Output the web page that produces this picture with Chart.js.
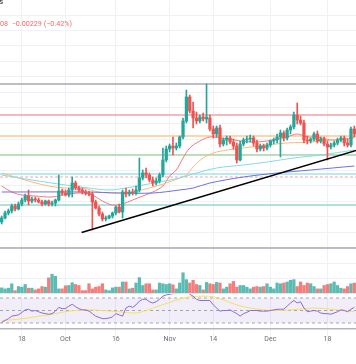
<!DOCTYPE html>
<html>
<head>
<meta charset="utf-8">
<script src="https://cdn.jsdelivr.net/npm/chart.js@4.4.0/dist/chart.umd.min.js"></script>
<style>
  body { margin: 0; width: 356px; height: 364px; overflow: hidden; background: #fff; font-family: Roboto, sans-serif; }
  .pane { position: absolute; left: 0; width: 356px; }
  #title { position: absolute; left: -1px; top: -3px; font-size: 8px; color: #131722; }
  #change { position: absolute; left: 0; top: 19px; font-size: 7.2px; color: #f06b6b; white-space: pre; }
  #sep { position: absolute; left: 0; top: 293px; width: 356px; height: 1px; background: #e4e6ec; }
</style>
</head>
<body>
<div class="pane" style="top:0;height:293px"><canvas id="main" width="356" height="293"></canvas></div>
<div class="pane" style="top:293px;height:56px"><canvas id="rsi" width="356" height="56"></canvas></div>
<div id="sep"></div>
<div id="title">s</div>
<div id="change">08  −0.00229 (−0.42%)</div>
<script>
// day 0 = Sep 12, one candle per day
const tickDays = [6, 19, 34, 50, 63, 80, 97];
const tickLabels = ['18', 'Oct', '16', 'Nov', '14', 'Dec', '18'];

const opens = [0.5356,0.5364,0.5374,0.5378,0.5388,0.5382,0.5392,0.5400,0.5408,0.5398,
  0.5402,0.5400,0.5396,0.5392,0.5398,0.5392,0.5394,0.5400,0.5418,0.5414,
  0.5410,0.5420,0.5434,0.5424,0.5420,0.5416,0.5414,0.5412,0.5396,0.5384,
  0.5372,0.5362,0.5364,0.5368,0.5374,0.5386,0.5376,0.5416,0.5412,0.5416,
  0.5414,0.5420,0.5444,0.5454,0.5450,0.5440,0.5434,0.5438,0.5450,0.5480,
  0.5502,0.5508,0.5504,0.5508,0.5526,0.5558,0.5606,0.5578,0.5564,0.5558,
  0.5566,0.5562,0.5564,0.5542,0.5532,0.5544,0.5512,0.5520,0.5524,0.5516,
  0.5508,0.5480,0.5512,0.5520,0.5522,0.5524,0.5514,0.5502,0.5508,0.5504,
  0.5510,0.5518,0.5520,0.5526,0.5534,0.5524,0.5540,0.5546,0.5570,0.5560,
  0.5554,0.5520,0.5518,0.5522,0.5532,0.5518,0.5522,0.5512,0.5506,0.5510,
  0.5514,0.5520,0.5524,0.5514,0.5510,0.5542];
const highs = [0.5368,0.5378,0.5382,0.5392,0.5392,0.5396,0.5404,0.5412,0.5420,0.5406,
  0.5406,0.5404,0.5400,0.5400,0.5400,0.5398,0.5402,0.5450,0.5422,0.5420,
  0.5424,0.5446,0.5438,0.5428,0.5424,0.5420,0.5418,0.5416,0.5400,0.5388,
  0.5376,0.5368,0.5370,0.5376,0.5388,0.5392,0.5420,0.5424,0.5420,0.5422,
  0.5428,0.5484,0.5460,0.5464,0.5454,0.5446,0.5444,0.5454,0.5504,0.5508,
  0.5512,0.5526,0.5514,0.5528,0.5564,0.5620,0.5610,0.5596,0.5576,0.5570,
  0.5574,0.5632,0.5570,0.5548,0.5548,0.5550,0.5524,0.5528,0.5528,0.5522,
  0.5514,0.5518,0.5524,0.5528,0.5530,0.5528,0.5520,0.5512,0.5512,0.5514,
  0.5520,0.5524,0.5532,0.5540,0.5538,0.5544,0.5550,0.5576,0.5594,0.5568,
  0.5560,0.5528,0.5524,0.5536,0.5538,0.5526,0.5526,0.5518,0.5514,0.5518,
  0.5524,0.5528,0.5528,0.5522,0.5546,0.5548];
const lows = [0.5352,0.5362,0.5370,0.5374,0.5378,0.5380,0.5388,0.5396,0.5390,0.5394,
  0.5396,0.5394,0.5388,0.5390,0.5388,0.5388,0.5388,0.5398,0.5410,0.5408,
  0.5406,0.5406,0.5420,0.5416,0.5412,0.5410,0.5408,0.5340,0.5382,0.5368,
  0.5358,0.5358,0.5362,0.5364,0.5370,0.5374,0.5364,0.5406,0.5408,0.5410,
  0.5410,0.5416,0.5440,0.5444,0.5436,0.5428,0.5430,0.5434,0.5446,0.5476,
  0.5496,0.5490,0.5500,0.5504,0.5522,0.5554,0.5574,0.5544,0.5552,0.5554,
  0.5558,0.5554,0.5538,0.5524,0.5526,0.5506,0.5508,0.5510,0.5512,0.5502,
  0.5474,0.5478,0.5508,0.5514,0.5516,0.5508,0.5496,0.5498,0.5498,0.5500,
  0.5506,0.5512,0.5514,0.5486,0.5518,0.5520,0.5532,0.5542,0.5552,0.5550,
  0.5514,0.5512,0.5514,0.5518,0.5514,0.5514,0.5508,0.5480,0.5502,0.5506,
  0.5510,0.5516,0.5508,0.5506,0.5506,0.5526];
const closes = [0.5364,0.5374,0.5378,0.5388,0.5382,0.5392,0.5400,0.5408,0.5398,0.5402,
  0.5400,0.5396,0.5392,0.5398,0.5392,0.5394,0.5400,0.5418,0.5414,0.5410,
  0.5420,0.5434,0.5424,0.5420,0.5416,0.5414,0.5412,0.5396,0.5384,0.5372,
  0.5362,0.5364,0.5368,0.5374,0.5386,0.5376,0.5416,0.5412,0.5416,0.5414,
  0.5420,0.5444,0.5454,0.5450,0.5440,0.5434,0.5438,0.5450,0.5480,0.5502,
  0.5508,0.5504,0.5508,0.5526,0.5558,0.5606,0.5578,0.5564,0.5558,0.5566,
  0.5562,0.5566,0.5542,0.5532,0.5544,0.5512,0.5520,0.5524,0.5516,0.5508,
  0.5480,0.5512,0.5520,0.5522,0.5524,0.5514,0.5502,0.5508,0.5504,0.5510,
  0.5518,0.5520,0.5526,0.5534,0.5524,0.5540,0.5546,0.5570,0.5560,0.5554,
  0.5520,0.5518,0.5522,0.5532,0.5518,0.5522,0.5512,0.5506,0.5510,0.5514,
  0.5520,0.5524,0.5514,0.5510,0.5542,0.5532];
const volumes = [50,40,47,90,23,63,57,83,47,47,30,40,63,57,147,183,163,40,40,70,
  73,100,83,73,23,23,90,40,57,63,90,30,23,50,57,57,107,107,40,47,
  97,150,73,90,90,30,30,97,90,83,90,80,40,97,197,130,97,123,83,73,
  30,103,90,83,103,97,40,57,90,113,57,73,73,57,40,57,63,57,63,90,
  57,40,97,90,97,107,123,130,63,107,73,97,90,63,40,40,73,83,90,107,
  73,47,40,63,90,97];

// moving averages, read at a few days each
const maRedDays = [0,3,6,10,15,20,24,27,30,33,36,39,42,45,48,50,52,54,56,59,62,65,68,71,75,79,82,85,88,91,94,98,102,105];
const maRed = [0.5428,0.5416,0.5410,0.5408,0.5406,0.5412,0.5414,0.5410,0.5398,0.5390,0.5392,0.5400,0.5408,0.5416,0.5428,0.5448,0.5460,0.5484,0.5504,0.5518,0.5526,0.5524,0.5522,0.5518,0.5516,0.5518,0.5522,0.5526,0.5532,0.5526,0.5526,0.5520,0.5522,0.5526];
const maOrangeDays = [0,5,9,14,19,24,29,34,39,44,49,53,55,57,60,64,72,79,85,92,99,105];
const maOrange = [0.5454,0.5444,0.5436,0.5428,0.5424,0.5424,0.5416,0.5414,0.5416,0.5424,0.5434,0.5444,0.5450,0.5466,0.5484,0.5496,0.5504,0.5510,0.5514,0.5516,0.5520,0.5524];
const maCyanDays = [0,9,19,26,32,37,42,47,53,58,64,72,79,87,95,105];
const maCyan = [0.5450,0.5440,0.5430,0.5424,0.5420,0.5424,0.5430,0.5436,0.5444,0.5454,0.5464,0.5470,0.5476,0.5484,0.5490,0.5500];
const maBlueDays = [0,25,35,45,53,57,62,72,82,92,105];
const maBlue = [0.5416,0.5416,0.5414,0.5414,0.5420,0.5424,0.5434,0.5446,0.5454,0.5460,0.5468];

// horizontal drawings
const levelPrices = [0.5632, 0.5570, 0.5528, 0.5490, 0.5452, 0.5446, 0.5390, 0.5304];
const levelColors = ['#a7a9b1', '#eea3a3', '#ffc98c', '#a9d4a9', '#a3e3ea', '#f6c4c4', '#98d6d0', '#a7a9b1'];
const levelDashed = [false, false, false, false, false, true, false, false];
const trendDays = [23.8, 106];
const trendPrices = [0.5335, 0.5500];

const rsiValues = [31,34,37,41,42,43,47,51,52,49,50,48,46,45,44,45,49,55,53,53,
  57,60,56,53,51,51,49,45,41,39,37,37,38,40,45,43,41,54,57,55,
  59,65,68,68,64,62,64,68,73,75,76,77,77,78,82,84,76,73,68,66,
  66,66,66,59,54,49,50,50,51,48,45,41,45,47,50,50,50,49,49,49,
  50,51,52,52,52,57,62,66,62,64,54,48,49,50,49,46,45,45,44,46,
  48,51,50,48,52,55];
const rsiMaDays = [0,5,10,15,20,25,30,35,40,43,45,50,55,60,63,66,70,74,78,82,86,90,94,98,102,105];
const rsiMa = [34,36,40,44,49,51,50,48,46,50,54,63,71,73,72,67,59,54,51,50,51,53,54,52,50,48];

Chart.defaults.font.family = 'Roboto, sans-serif';

const UP = '#26a69a';
const DOWN = '#ef5350';
const X_MIN = -0.5;
const X_MAX = 105.5;

function pts(xs, ys) {
  return xs.map((x, i) => ({ x: x, y: ys[i] }));
}

function dayTicks(axis) {
  axis.ticks = tickDays.map(d => ({ value: d }));
}

function lineSet(data, color, width, yAxisID, order) {
  return {
    type: 'line',
    data: data,
    borderColor: color,
    borderWidth: width,
    pointRadius: 0,
    tension: 0.35,
    yAxisID: yAxisID,
    order: order,
  };
}

function initMain() {
  const days = opens.map((_, i) => i);
  const colors = days.map(i => (closes[i] >= opens[i] ? UP : DOWN));
  const volColors = days.map(i => (closes[i] >= opens[i] ? 'rgba(38,166,154,0.75)' : 'rgba(239,83,80,0.75)'));

  let datasets = [];
  datasets.push({
    data: days.map(i => ({ x: i, y: volumes[i] })),
    backgroundColor: volColors,
    barThickness: 2.6,
    grouped: false,
    yAxisID: 'yv',
    order: 20,
  });
  levelPrices.forEach((p, k) => {
    let s = lineSet([{ x: X_MIN, y: p }, { x: X_MAX, y: p }], levelColors[k], 1.4, 'y', 15);
    if (levelDashed[k]) s.borderDash = [3, 2];
    datasets.push(s);
  });
  datasets.push(lineSet(pts(maBlueDays, maBlue), '#6d70e6', 1, 'y', 12));
  datasets.push(lineSet(pts(maCyanDays, maCyan), '#7fdde6', 1, 'y', 12));
  datasets.push(lineSet(pts(maOrangeDays, maOrange), '#ffb978', 1, 'y', 12));
  datasets.push(lineSet(pts(maRedDays, maRed), '#f2787c', 1, 'y', 12));
  datasets.push({
    data: days.map(i => ({ x: i, y: [lows[i], highs[i]] })),
    backgroundColor: colors,
    barThickness: 1,
    grouped: false,
    yAxisID: 'y',
    order: 6,
  });
  datasets.push({
    data: days.map(i => ({ x: i, y: [opens[i], closes[i]] })),
    backgroundColor: colors,
    barThickness: 2.6,
    minBarLength: 1,
    grouped: false,
    yAxisID: 'y',
    order: 5,
  });
  let trend = lineSet(pts(trendDays, trendPrices), '#000000', 1.6, 'y', 1);
  trend.tension = 0;
  datasets.push(trend);

  new Chart(document.getElementById('main'), {
    type: 'bar',
    data: { datasets: datasets },
    options: {
      responsive: false,
      animation: false,
      events: [],
      layout: { padding: 0 },
      plugins: { legend: { display: false }, tooltip: { enabled: false } },
      scales: {
        x: {
          type: 'linear',
          min: X_MIN,
          max: X_MAX,
          offset: false,
          grid: { color: '#eef1f6', offset: false, drawTicks: false },
          border: { display: false },
          ticks: { display: false },
          afterBuildTicks: dayTicks,
          afterFit: axis => { axis.height = 0; },
        },
        y: {
          min: 0.5214,
          max: 0.58,
          grid: { color: '#eef1f6', drawTicks: false },
          border: { display: false },
          ticks: { display: false },
          afterBuildTicks: axis => {
            let t = [];
            for (let k = 0; k < 19; k++) t.push({ value: 0.577 - k * 0.0031 });
            axis.ticks = t;
          },
          afterFit: axis => { axis.width = 0; },
        },
        yv: { display: false, min: 0, max: 2850 },
      },
    },
  });
}

function initRsi() {
  let band = [];
  [70, 50, 30].forEach(v => {
    band.push({
      type: 'line',
      data: [{ x: X_MIN, y: v }, { x: X_MAX, y: v }],
      borderColor: '#a3a6af',
      borderWidth: 1,
      borderDash: [3, 3],
      pointRadius: 0,
      order: 10,
    });
  });
  band[2].fill = 0;
  band[2].backgroundColor = 'rgba(126,87,194,0.1)';

  let rsi = lineSet(rsiValues.map((v, i) => ({ x: i, y: v })), '#8a6ad0', 1, 'y', 2);
  rsi.tension = 0;
  let rsiAvg = lineSet(pts(rsiMaDays, rsiMa), '#f7df5a', 1, 'y', 3);

  new Chart(document.getElementById('rsi'), {
    type: 'line',
    data: { datasets: band.concat([rsiAvg, rsi]) },
    options: {
      responsive: false,
      animation: false,
      events: [],
      layout: { padding: 0 },
      plugins: { legend: { display: false }, tooltip: { enabled: false } },
      scales: {
        x: {
          type: 'linear',
          min: X_MIN,
          max: X_MAX,
          grid: { color: '#eef1f6', drawTicks: true, tickLength: 15 },
          border: { display: true, color: '#b4b6bd', width: 1.5 },
          ticks: {
            color: '#6a6d78',
            font: { size: 7 },
            padding: -9,
            maxRotation: 0,
            autoSkip: false,
            callback: v => tickLabels[tickDays.indexOf(v)],
          },
          afterBuildTicks: dayTicks,
          afterFit: axis => { axis.height = 20; },
        },
        y: { display: false, min: 20.4, max: 78 },
      },
    },
  });
}

initMain();
initRsi();
</script>
</body>
</html>
